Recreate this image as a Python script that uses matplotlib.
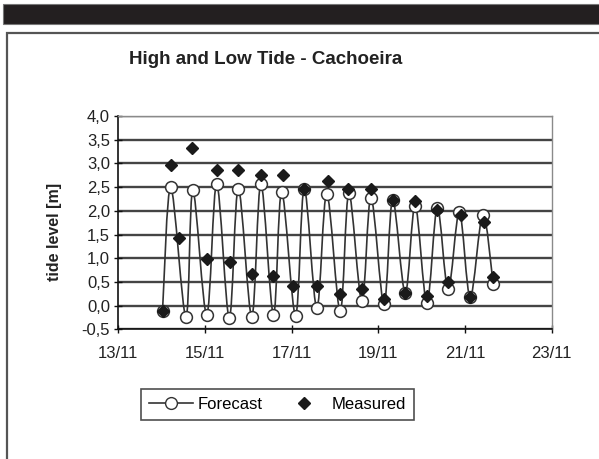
import matplotlib
matplotlib.use("Agg")
import matplotlib.pyplot as plt
from matplotlib.path import Path
from matplotlib.patches import PathPatch, Rectangle
from matplotlib.lines import Line2D
import numpy as np

plt.rcParams['font.family'] = ['Liberation Sans', 'DejaVu Sans']

# ---- data (day of November, tide level in m) ----
forecast_day = [14.02, 14.21, 14.56, 14.72, 15.04, 15.27, 15.56, 15.77, 16.08, 16.29,
                16.58, 16.77, 17.09, 17.29, 17.58, 17.81, 18.12, 18.32, 18.62, 18.83,
                19.13, 19.33, 19.62, 19.85, 20.12, 20.36, 20.61, 20.87, 21.12, 21.41, 21.65]
forecast_level = [-0.12, 2.50, -0.24, 2.43, -0.19, 2.57, -0.26, 2.47, -0.23, 2.57,
                  -0.19, 2.40, -0.21, 2.47, -0.05, 2.36, -0.12, 2.37, 0.09, 2.28,
                  0.03, 2.23, 0.27, 2.11, 0.06, 2.06, 0.34, 1.97, 0.18, 1.92, 0.46]
measured_day = [14.02, 14.21, 14.41, 14.69, 15.05, 15.27, 15.58, 15.77, 16.08, 16.29,
                16.58, 16.81, 17.04, 17.29, 17.58, 17.83, 18.12, 18.31, 18.62, 18.83,
                19.13, 19.33, 19.62, 19.85, 20.12, 20.36, 20.60, 20.90, 21.12, 21.44, 21.64]
measured_level = [-0.12, 2.96, 1.42, 3.32, 0.98, 2.86, 0.93, 2.86, 0.66, 2.75,
                  0.62, 2.75, 0.41, 2.45, 0.41, 2.63, 0.25, 2.47, 0.34, 2.47,
                  0.13, 2.23, 0.27, 2.20, 0.20, 2.01, 0.50, 1.92, 0.18, 1.76, 0.60]
x_ticks = [13, 15, 17, 19, 21, 23]
x_tick_labels = ["13/11", "15/11", "17/11", "19/11", "21/11", "23/11"]
y_ticks = [-0.5, 0.0, 0.5, 1.0, 1.5, 2.0, 2.5, 3.0, 3.5, 4.0]
y_tick_labels = ["-0,5", "0,0", "0,5", "1,0", "1,5", "2,0", "2,5", "3,0", "3,5", "4,0"]

W, H = 599, 459
fig = plt.figure(figsize=(W / 100, H / 100), dpi=100)
fig.patch.set_facecolor('white')

# top black bar
fig.patches.append(Rectangle((3 / W, 1 - 24 / H), 1.0, 20 / H, transform=fig.transFigure,
                             facecolor='#231f20', edgecolor='#777777', lw=0.8))
# chart frame
fig.patches.append(Rectangle((7 / W, -0.1), 1.2, 1 - 33 / H + 0.1, transform=fig.transFigure,
                             facecolor='none', edgecolor='#555555', lw=1.6))

ax = fig.add_axes([118.3 / W, 1 - 329.3 / H, (551.7 - 118.3) / W, (329.3 - 116) / H])
ax.set_xlim(13, 23)
ax.set_ylim(-0.5, 4.0)
ax.set_xticks(x_ticks)
ax.set_xticklabels(x_tick_labels)
ax.set_yticks(y_ticks)
ax.set_yticklabels(y_tick_labels)
ax.yaxis.grid(True, color='#444444', lw=1.7)
ax.set_axisbelow(True)
for s in ['left', 'bottom']:
    ax.spines[s].set_color('#111111')
    ax.spines[s].set_linewidth(1.2)
for s in ['top', 'right']:
    ax.spines[s].set_color('#8a8a8a')
    ax.spines[s].set_linewidth(1.0)
ax.tick_params(axis='both', direction='inout', length=6, width=1.0, color='#111111',
               labelsize=12, labelcolor='#222222')
ax.tick_params(axis='x', pad=9)
ax.tick_params(axis='y', pad=3)


def smooth_path(xs, ys):
    pts = np.column_stack([xs, ys])
    n = len(pts)
    verts = [pts[0]]
    codes = [Path.MOVETO]
    for i in range(n - 1):
        p0 = pts[max(i - 1, 0)]
        p1 = pts[i]
        p2 = pts[i + 1]
        p3 = pts[min(i + 2, n - 1)]
        c1 = p1 + (p2 - p0) / 6.0
        c2 = p2 - (p3 - p1) / 6.0
        verts += [c1, c2, p2]
        codes += [Path.CURVE4] * 3
    return Path(verts, codes)


ax.add_patch(PathPatch(smooth_path(forecast_day, forecast_level), fill=False,
                       edgecolor='#333333', lw=1.2, zorder=3))
ax.plot(forecast_day, forecast_level, ls='none', marker='o', ms=8.5,
        mfc='white', mec='#333333', mew=1.1, zorder=4)
ax.plot(measured_day, measured_level, ls='none', marker='D', ms=6,
        mfc='#1a1a1a', mec='#1a1a1a', zorder=5)

fig.text(266 / W, 1 - 60 / H, "High and Low Tide - Cachoeira", ha='center', va='center',
         fontsize=13.5, fontweight='bold', color='#222222')
fig.text(55 / W, 1 - 231.7 / H, "tide level [m]", rotation=90, ha='center', va='center',
         fontsize=11.5, fontweight='bold', color='#222222')

handles = [Line2D([], [], color='#333333', lw=1.2, marker='o', ms=8.5, mfc='white',
                  mec='#333333'),
           Line2D([], [], ls='none', marker='D', ms=6, color='#1a1a1a')]
leg = fig.legend(handles, ["Forecast", "Measured"], loc='center',
                 bbox_to_anchor=(277.5 / W, 1 - 404.5 / H), ncol=2, fontsize=12,
                 frameon=True, fancybox=False, edgecolor='#222222', handlelength=2.6,
                 columnspacing=1.2, handletextpad=0.3, borderpad=0.5)
leg.get_frame().set_linewidth(1.2)

fig.savefig("out.png", dpi=100)
